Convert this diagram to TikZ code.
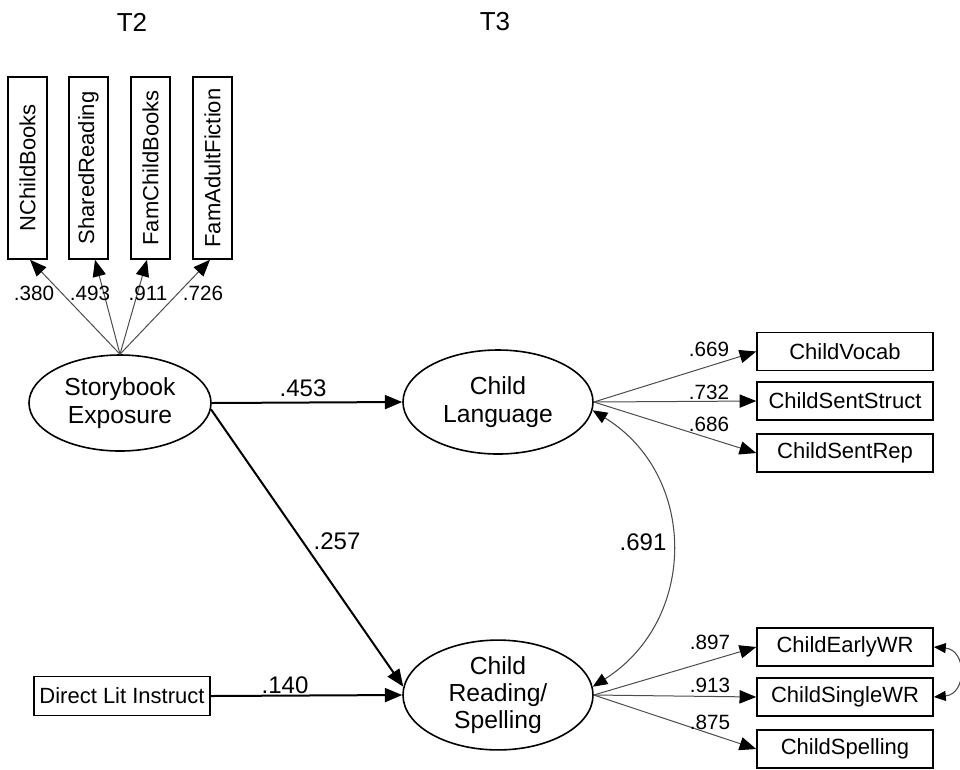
\documentclass[tikz,border=0pt]{standalone}
\usepackage{fontspec}
\setmainfont{Liberation Sans}
\usetikzlibrary{arrows.meta,shapes.geometric}
\begin{document}
\begin{tikzpicture}[x=0.75pt,y=-0.75pt,
  box/.style={draw,line width=1.2pt,inner sep=0pt,font=\fontsize{16.5}{19}\selectfont},
  vbox/.style={box,minimum width=29pt,minimum height=136.5pt},
  hbox/.style={box,minimum width=132pt,minimum height=28.5pt},
  lat/.style={draw,ellipse,line width=1.2pt,inner sep=0pt,align=center,font=\fontsize{18.5}{20.5}\selectfont},
  lbl/.style={font=\fontsize{15.5}{17}\selectfont,inner sep=1pt},
  plbl/.style={font=\fontsize{18}{20}\selectfont,inner sep=1pt},
  tlbl/.style={font=\fontsize{19.5}{22}\selectfont},
  ldarrow/.style={draw=black!70,line width=0.75pt,-{Triangle[length=12.5pt,width=10pt,color=black]}},
  sarrow/.style={line width=1.5pt,-{Triangle[length=13pt,width=10.5pt]}},
  cov/.style={draw=black!70,line width=0.8pt,{Triangle[length=11pt,width=9pt,color=black]}-{Triangle[length=11pt,width=9pt,color=black]}},
  cov2/.style={draw=black!70,line width=0.8pt,{Triangle[length=9pt,width=7.5pt,color=black]}-{Triangle[length=9pt,width=7.5pt,color=black]}}
]
\useasboundingbox (0,0) rectangle (960,769);

% titles
\node[tlbl] (t2) at (132,22) {T2};
\node[tlbl] (t3) at (495,22) {T3};

% indicators of storybook exposure
\node[vbox] (b1) at (27.5,168) {\rotatebox{90}{NChildBooks}};
\node[vbox] (b2) at (88.5,168) {\rotatebox{90}{SharedReading}};
\node[vbox] (b3) at (150.5,168) {\rotatebox{90}{FamChildBooks}};
\node[vbox] (b4) at (212.5,168) {\rotatebox{90}{FamAdultFiction}};

% latent variables
\node[lat,minimum width=136.5pt,minimum height=72pt] (sb) at (120,403) {Storybook\\Exposure};
\node[lat,minimum width=142.5pt,minimum height=78pt] (cl) at (498,402) {Child\\Language};
\node[lat,minimum width=142.5pt,minimum height=78pt] (cr) at (498,695) {Child\\Reading/\\Spelling};

% observed
\node[box,minimum width=132pt,minimum height=29pt] (dl) at (122,696) {Direct Lit Instruct};
\node[hbox] (cv) at (845,351.5) {ChildVocab};
\node[hbox] (cs) at (845,401) {ChildSentStruct};
\node[hbox] (cp) at (845,453) {ChildSentRep};
\node[hbox] (ew) at (845,647) {ChildEarlyWR};
\node[hbox] (sw) at (845,697) {ChildSingleWR};
\node[hbox] (sp) at (845,749) {ChildSpelling};

% loadings storybook
\draw[ldarrow] (sb.north) -- ([xshift=1.9pt]b1.south);
\draw[ldarrow] (sb.north) -- ([xshift=4.9pt]b2.south);
\draw[ldarrow] (sb.north) -- ([xshift=-2.6pt]b3.south);
\draw[ldarrow] (sb.north) -- ([xshift=-1.9pt]b4.south);
\node[lbl] (l1) at (34,293) {.380};
\node[lbl] (l2) at (90,293) {.493};
\node[lbl] (l3) at (148,293) {.911};
\node[lbl] (l4) at (203,293) {.726};

% loadings child language
\draw[ldarrow] (cl.east) -- (cv.west);
\draw[ldarrow] (cl.east) -- (cs.west);
\draw[ldarrow] (cl.east) -- (cp.west);
\node[lbl] (l5) at (709,349) {.669};
\node[lbl] (l6) at (709,392) {.732};
\node[lbl] (l7) at (709,424.5) {.686};

% loadings child reading
\draw[ldarrow] (cr.east) -- (ew.west);
\draw[ldarrow] (cr.east) -- (sw.west);
\draw[ldarrow] (cr.east) -- (sp.west);
\node[lbl] (l8) at (710,642) {.897};
\node[lbl] (l9) at (710,685) {.913};
\node[lbl] (l10) at (710,722) {.875};

% structural paths
\draw[sarrow] (sb.east) -- (cl.west);
\node[plbl] (p1) at (303,388) {.453};
\draw[sarrow] (sb.-4) -- (cr.175);
\node[plbl] (p2) at (337,541) {.257};
\draw[sarrow] (dl.east) -- (cr.west);
\node[plbl] (p3) at (285,685) {.140};

% covariances
\draw[cov] (cl.-5) .. controls (698,475) and (698,620) .. (cr.5);
\node[plbl] (p4) at (643,542) {.691};
\draw[cov2] (ew.east) .. controls (967,650) and (967,694) .. (sw.east);
\end{tikzpicture}
\end{document}
